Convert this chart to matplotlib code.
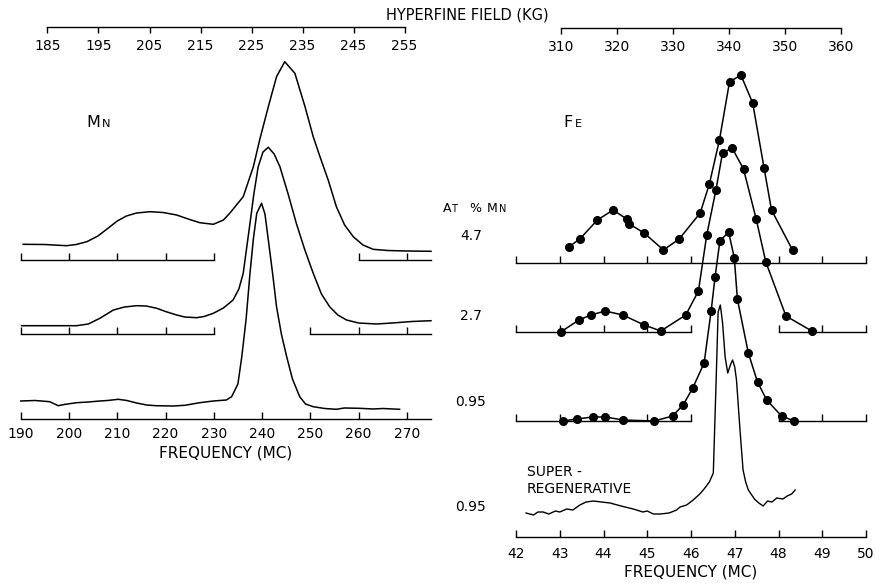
import matplotlib.pyplot as plt
import numpy as np

W, H = 875, 583

# Mn55 spectra (left) - frequency in Mc, height of trace above its own scale line
mn_47_f = [190.5, 195, 199.5, 201.5, 203.7, 206, 208.5, 210, 211.9, 214, 216.8, 219.5,
           222.3, 225, 227.1, 229.9, 232, 233.3, 236.1, 238.2, 239.5, 241.3, 243, 244.7,
           246.8, 248.9, 250.6, 252, 253.7, 255.4, 257.1, 258.9, 260.9, 263, 266, 270, 275]
mn_47_y = [15.7, 15.5, 14.3, 15.5, 18.3, 24, 33.3, 39, 44, 47, 48.3, 47.5,
           45, 40.5, 37.3, 35.7, 40, 46.7, 63.3, 93.3, 120, 153.3, 183.3, 198.3,
           186.7, 153.3, 123.3, 103.3, 80, 53.3, 35, 23.3, 15, 10.7, 9.5, 9, 8.7]

mn_27_f = [190.2, 196, 201.6, 204, 206.4, 209.2, 211.5, 214, 216, 218.2, 220, 222.3,
           224, 226.4, 228, 229.9, 232, 234, 235.2, 236.1, 237.5, 238.3, 239.2, 240.2,
           241.3, 242.5, 243.7, 245.4, 247.1, 248.8, 250.6, 252.3, 254, 255.7, 257.5,
           260, 263.7, 267, 271, 275]
mn_27_y = [8.3, 8.3, 8.3, 10, 15.7, 24, 27, 28.3, 28, 25.7, 22.5, 19,
           17, 16.3, 17.5, 20.7, 26, 34, 45, 60.7, 110.7, 140, 167.3, 182,
           186.7, 180, 167.3, 140, 110.7, 85, 60.7, 40, 27.3, 19, 14,
           11, 10, 11, 12.5, 13.3]

mn_095_f = [190, 193, 196, 197.8, 199, 201.6, 204, 206.4, 208, 210.2, 212, 214,
            216.1, 218, 221.6, 224, 227.1, 229.9, 232.6, 233.7, 235, 235.8, 236.7,
            237.5, 238.2, 238.9, 239.9, 240.6, 241.3, 242.2, 243, 244, 245.1, 246.3,
            247.8, 249, 250.6, 253, 255.4, 257, 260.2, 263, 265, 268.5]
mn_095_y = [18, 18.5, 17.3, 13.3, 14.5, 16.3, 17, 18, 18.5, 19.7, 18.5, 16,
            14, 13.3, 13, 13.7, 16.3, 18, 19, 22.3, 35, 62.3, 100,
            145.7, 180, 205.7, 215.7, 205, 179, 145, 112.3, 85, 62.3, 40,
            22.3, 15, 12.3, 10.5, 9.7, 11, 10.7, 10, 10.5, 9.7]

# Fe57 spectra (right) - measured points
fe_47_f = [43.20, 43.46, 43.86, 44.22, 44.53, 44.59, 44.93, 45.37, 45.73, 46.21,
           46.42, 46.65, 46.88, 47.14, 47.41, 47.67, 47.84, 48.32]
fe_47_y = [16, 24, 43, 53, 44, 39, 30, 13, 24, 50, 79, 123, 181, 188, 160, 95, 53, 13]

fe_27_f = [43.02, 43.44, 43.71, 44.04, 44.44, 44.93, 45.31, 45.88, 46.17, 46.36,
           46.57, 46.72, 46.94, 47.20, 47.49, 47.71, 48.17, 48.76]
fe_27_y = [0, 12, 17, 21, 17, 7, 1, 17, 41, 97, 142, 179, 184, 163, 113, 70, 16, 1]

fe_095_f = [43.07, 43.39, 43.75, 44.04, 44.45, 45.16, 45.58, 45.82, 46.04, 46.30,
            46.46, 46.55, 46.66, 46.86, 46.99, 47.06, 47.31, 47.52, 47.73, 48.07, 48.36]
fe_095_y = [0, 2, 4, 4, 1, 0, 5, 16, 33, 58, 110, 144, 180, 189, 163, 122, 68, 39, 21, 5, 0]

# super-regenerative trace (0.95 at % Mn)
sr_f = [42.23, 42.4, 42.5, 42.62, 42.75, 42.9, 43.0, 43.16, 43.3, 43.46, 43.6, 43.77,
        43.95, 44.15, 44.4, 44.68, 44.9, 45.0, 45.14, 45.3, 45.5, 45.67, 45.75, 45.9,
        46.05, 46.2, 46.3, 46.42, 46.51, 46.57, 46.62, 46.67, 46.72, 46.78, 46.84,
        46.9, 46.95, 47.0, 47.04, 47.12, 47.19, 47.25, 47.31, 47.45, 47.55, 47.65,
        47.75, 47.85, 47.96, 48.1, 48.2, 48.3, 48.38]
sr_y = [24, 22, 25, 25, 23, 26, 25, 28, 27, 32, 35, 36,
        35, 34, 31, 28, 25, 26, 23, 23, 24, 27, 30, 32,
        37, 43, 48, 55, 64, 150, 225, 232, 215, 180, 164,
        172, 177, 170, 157, 107, 67, 55, 47, 38, 34, 31,
        36, 35, 39, 38, 41, 43, 47]

conc_labels = ["4.7", "2.7", "0.95", "0.95"]
mn_ticks = list(range(190, 271, 10))
fe_ticks = list(range(42, 51))
mn_field_ticks = list(range(185, 256, 10))
fe_field_ticks = list(range(310, 361, 10))

# baseline of each trace (pixels above the bottom axis) and the broken scale lines
mn_base = [159, 85, 0]
mn_segments = [[(190, 230), (260, 275)], [(190, 230), (250, 275)]]
fe_base = [274, 205, 116, 0]
fe_segments = [[(42, 50)], [(42, 46), (48, 50)], [(42, 46), (48, 50)]]

MN_RATIO = 1.057            # Mc per kG for Mn55


def fe_field(f):
    return 310 + (f - 43.022) * 7.8125


def px(x, y):
    return x / W, 1 - y / H


def scale_line(ax, base, segments, step, tick_len):
    for lo, hi in segments:
        ax.plot([lo, hi], [base, base], color="black", lw=1.0, clip_on=False)
        ticks = np.arange(np.ceil(lo / step) * step, hi + 1e-6, step)
        ax.vlines(ticks, base, base + tick_len, color="black", lw=1.0, clip_on=False)


def field_axis(left, width, y, lim, bounds, ticks):
    a = fig.add_axes([left / W, 1 - y / H, width / W, 0.0001])
    a.patch.set_visible(False)
    for s in ["left", "right", "top"]:
        a.spines[s].set_visible(False)
    a.spines["bottom"].set_bounds(*bounds)
    a.spines["bottom"].set_linewidth(1.0)
    a.set_xlim(*lim)
    a.set_yticks([])
    a.set_xticks(ticks)
    a.tick_params(axis="x", direction="out", length=4.5, width=1.0, pad=4, labelsize=10)
    return a


plt.rcParams["font.family"] = "DejaVu Sans"
fig = plt.figure(figsize=(8.75, 5.83), dpi=100)

# ---- Mn panel
ax_mn = fig.add_axes([20.7 / W, (H - 419) / H, (431 - 20.7) / W, 392 / H])
ax_mn.set_xlim(190, 275)
ax_mn.set_ylim(0, 392)
for s in ["left", "right", "top"]:
    ax_mn.spines[s].set_visible(False)
ax_mn.spines["bottom"].set_linewidth(1.0)
ax_mn.set_yticks([])
ax_mn.set_xticks(mn_ticks)
ax_mn.tick_params(axis="x", direction="in", length=5, width=1.0, pad=6, labelsize=10)
ax_mn.set_xlabel("FREQUENCY (MC)", fontsize=11, labelpad=3)

for f, y, b in zip([mn_47_f, mn_27_f, mn_095_f], [mn_47_y, mn_27_y, mn_095_y], mn_base):
    ax_mn.plot(f, np.array(y) + b, color="black", lw=1.1, clip_on=False)
for b, seg in zip(mn_base[:2], mn_segments):
    scale_line(ax_mn, b, seg, 10, 7)

# ---- Fe panel
ax_fe = fig.add_axes([516 / W, (H - 537) / H, 350 / W, 508 / H])
ax_fe.set_xlim(42, 50)
ax_fe.set_ylim(0, 508)
for s in ["left", "right", "top"]:
    ax_fe.spines[s].set_visible(False)
ax_fe.spines["bottom"].set_linewidth(1.0)
ax_fe.set_yticks([])
ax_fe.set_xticks(fe_ticks)
ax_fe.tick_params(axis="x", direction="in", length=5, width=1.0, pad=7, labelsize=10)
ax_fe.set_xlabel("FREQUENCY (MC)", fontsize=11, labelpad=3)

for f, y, b in zip([fe_47_f, fe_27_f, fe_095_f], [fe_47_y, fe_27_y, fe_095_y], fe_base):
    ax_fe.plot(f, np.array(y) + b, color="black", lw=1.1, marker="o", ms=5.5, clip_on=False)
ax_fe.plot(sr_f, sr_y, color="black", lw=1.0, clip_on=False)
for b, seg in zip(fe_base[:3], fe_segments):
    scale_line(ax_fe, b, seg, 1, 7)

# ---- hyperfine field scales
field_axis(20.7, 431 - 20.7, 27, (190 / MN_RATIO, 275 / MN_RATIO), (185, 255), mn_field_ticks)
field_axis(516, 350, 28, (fe_field(42), fe_field(50)), (310, 360), fe_field_ticks)
fig.text(*px(467, 15), "HYPERFINE FIELD (KG)", fontsize=10.5, ha="center", va="center")

# ---- labels
fig.text(*px(86.5, 127), "M", fontsize=11.5, va="baseline")
fig.text(*px(101.5, 127), "N", fontsize=8.2, va="baseline")
fig.text(*px(563, 127), "F", fontsize=11.5, va="baseline")
fig.text(*px(574.5, 127), "E", fontsize=8.2, va="baseline")

fig.text(*px(443, 212), "A", fontsize=9, va="baseline")
fig.text(*px(451.5, 212), "T", fontsize=7, va="baseline")
fig.text(*px(469, 212), "%", fontsize=9, va="baseline")
fig.text(*px(487, 212), "M", fontsize=9, va="baseline")
fig.text(*px(498.5, 212), "N", fontsize=7, va="baseline")

for lab, yy in zip(conc_labels, [236, 316.5, 402, 507]):
    fig.text(*px(471, yy), lab, fontsize=10, ha="center", va="center")

fig.text(*px(527, 480.5), "SUPER -\nREGENERATIVE", fontsize=10, ha="left",
         va="center", linespacing=1.25)

fig.savefig("out.png", dpi=100, facecolor="white")
